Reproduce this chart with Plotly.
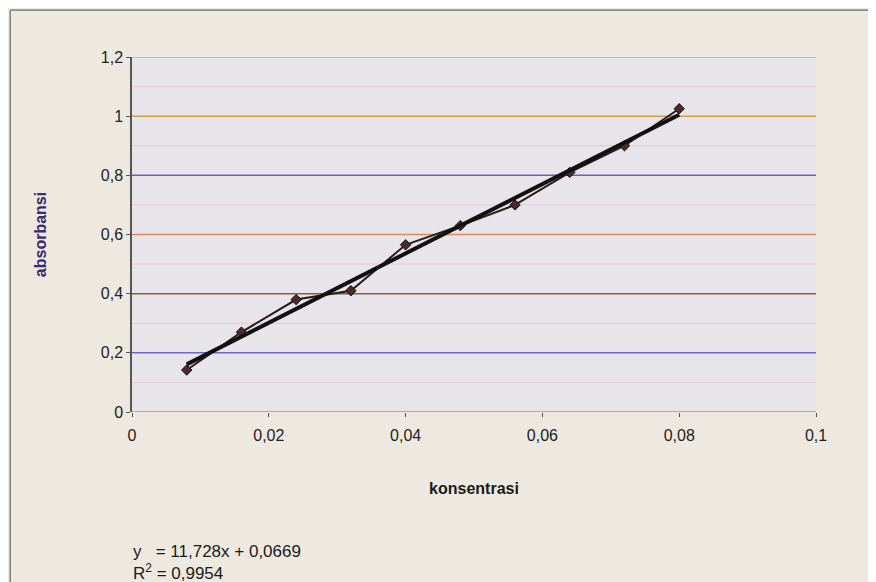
import plotly.graph_objects as go

konsentrasi = [0.008, 0.016, 0.024, 0.032, 0.040, 0.048, 0.056, 0.064, 0.072, 0.080]
absorbansi = [0.142, 0.270, 0.380, 0.410, 0.565, 0.630, 0.700, 0.810, 0.900, 1.025]
trend_x = [0.008, 0.080]
trend_y = [0.161, 1.005]
grid_vals = [0.2, 0.4, 0.6, 0.8, 1.0, 1.2]
grid_colors = ["#6d68cf", "#8c5a3e", "#d88a5a", "#6a5fc4", "#d0a040", "#e2a458"]
minor_vals = [0.1, 0.3, 0.5, 0.7, 0.9, 1.1]
x_ticks = [0, 0.02, 0.04, 0.06, 0.08, 0.1]
y_ticks = [0, 0.2, 0.4, 0.6, 0.8, 1.0, 1.2]

font_family = "Liberation Sans, Arial, sans-serif"

fig = go.Figure()

fig.add_trace(go.Scatter(
    x=konsentrasi, y=absorbansi, mode="lines+markers",
    line=dict(color="#2a1a1a", width=2),
    marker=dict(symbol="diamond", size=8, color="#4a2a2a", line=dict(color="#1a1010", width=1)),
    showlegend=False, hoverinfo="x+y"))

fig.add_trace(go.Scatter(
    x=trend_x, y=trend_y, mode="lines",
    line=dict(color="#111111", width=4),
    showlegend=False, hoverinfo="skip"))

shapes = []
for v in minor_vals:
    shapes.append(dict(type="line", xref="paper", yref="y", x0=0, x1=1, y0=v, y1=v,
                       line=dict(color="rgba(220,170,190,0.45)", width=1), layer="below"))
for v, c in zip(grid_vals, grid_colors):
    shapes.append(dict(type="line", xref="paper", yref="y", x0=0, x1=1, y0=v, y1=v,
                       line=dict(color=c, width=1.5), layer="below"))
# x axis line (olive)
shapes.append(dict(type="line", xref="paper", yref="y", x0=0, x1=1, y0=0, y1=0,
                   line=dict(color="#a4a45a", width=1.5), layer="above"))
# outer chart frame
shapes.append(dict(type="line", xref="paper", yref="paper", x0=-0.178, x1=1.09, y0=1.132, y1=1.132,
                   line=dict(color="#6a6a72", width=1.2)))
shapes.append(dict(type="line", xref="paper", yref="paper", x0=-0.178, x1=-0.178, y0=1.132, y1=-0.5,
                   line=dict(color="#6a6a72", width=1.2)))

fig.update_layout(
    width=868, height=574,
    margin=dict(l=124, r=60, t=49, b=170),
    paper_bgcolor="#ede9e1",
    plot_bgcolor="#e8e5ea",
    separators=",.",
    font=dict(family=font_family, size=16, color="#222222"),
    shapes=shapes,
    xaxis=dict(range=[0, 0.1], tickvals=x_ticks, showgrid=False, zeroline=False,
               showline=False, ticks="outside", ticklen=4, tickcolor="#555555",
               ticklabelstandoff=5,
               tickfont=dict(size=16, color="#222222"),
               title=dict(text="<b>konsentrasi</b>", font=dict(size=16, color="#1a1a1a"), standoff=39)),
    yaxis=dict(range=[0, 1.2], tickvals=y_ticks, showgrid=False, zeroline=False,
               showline=True, linecolor="#555555", linewidth=1.5, ticks="outside", ticklen=4,
               tickcolor="#555555", tickfont=dict(size=16, color="#222222"),
               title=dict(text="<b>absorbansi</b>", font=dict(size=16, color="#3a2a70"), standoff=50)),
    annotations=[
        dict(text="y   = 11,728x + 0,0669", xref="paper", yref="paper", x=-0.002, y=-0.394,
             xanchor="left", yanchor="middle", showarrow=False,
             font=dict(size=17, color="#1a1a1a")),
        dict(text="R<sup>2</sup> = 0,9954", xref="paper", yref="paper", x=-0.002, y=-0.45,
             xanchor="left", yanchor="middle", showarrow=False,
             font=dict(size=17, color="#1a1a1a")),
    ],
)

fig.write_html("out.html")
